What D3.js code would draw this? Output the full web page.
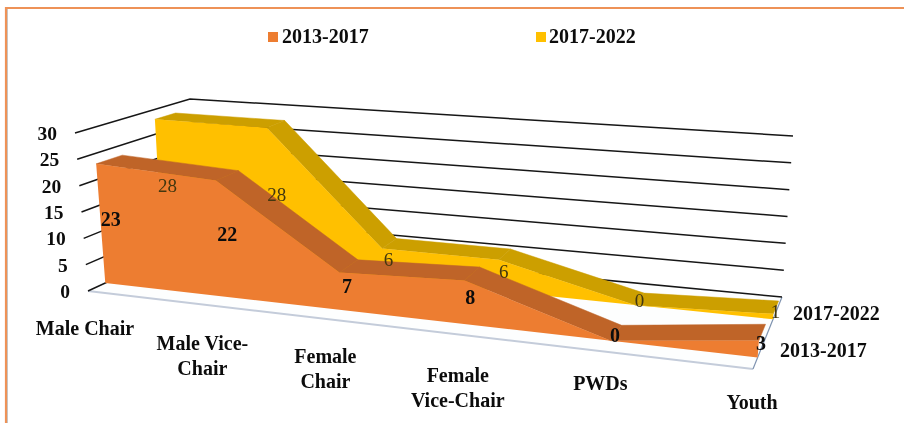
<!DOCTYPE html>
<html><head><meta charset="utf-8">
<script src="https://cdn.jsdelivr.net/npm/d3@7"></script>
<style>html,body{margin:0;padding:0;background:#fff}svg{display:block;filter:blur(.45px)}text{font-family:"Liberation Serif",serif;font-weight:700;fill:#0c0c0c}</style>
</head><body><svg id="c" width="904" height="423"></svg>
<script>
const categories = ["Male Chair","Male Vice-Chair","Female Chair","Female Vice-Chair","PWDs","Youth"];
const seriesNames = ["2013-2017","2017-2022"];
const values2013 = [23,22,7,8,0,3];
const values2017 = [28,28,6,6,0,1];
const valueTicks = [0,5,10,15,20,25,30];

// layout of the 3-D box: corners as [x,y] on the page
const box = {
  floorFL:[88,291], floorFR:[753,369], floorBL:[196,241], floorBR:[782,297],
  topFL:[75,133],   topFR:[766,199],   topBL:[190,99],    topBR:[793,136]
};
const catPos = d3.scaleLinear().domain(categories.map((_,i)=>i)).range([0,.178,.36,.55,.775,1]);
const valPos = d3.scaleLinear().domain([0,30]).range([0,1]);
const lerp = (a,b,t)=>a+(b-a)*t;
function project(u,d,val){
  const v = valPos(val);
  return [0,1].map(k=>{
    const f0=lerp(box.floorFL[k],box.floorFR[k],u), f1=lerp(box.floorBL[k],box.floorBR[k],u);
    const t0=lerp(box.topFL[k],box.topFR[k],u),   t1=lerp(box.topBL[k],box.topBR[k],u);
    return lerp(lerp(f0,f1,d),lerp(t0,t1,d),v);
  });
}
const svg = d3.select("#c");
const line = d3.line();
const closed = d3.line().curve(d3.curveLinearClosed);

// frame
svg.append("path").attr("d",line([[6,423],[6,8],[904,8]])).attr("fill","none").attr("stroke","#ee9257").attr("stroke-width",2.2);
svg.append("line").attr("x1",7.5).attr("x2",7.5).attr("y1",9).attr("y2",423).attr("stroke","#b9b9b9").attr("stroke-width",.8);

// legend
const legendX=[[268,282,"#ED7D31"],[536,549,"#FFC000"]];
seriesNames.forEach((n,i)=>{
  svg.append("rect").attr("x",legendX[i][0]).attr("y",32).attr("width",10).attr("height",10).attr("fill",legendX[i][2]);
  svg.append("text").attr("x",legendX[i][1]).attr("y",42.5).attr("font-size",20).text(n);
});

// floor
svg.append("path").attr("d",closed([project(0,0,0),project(1,0,0),project(1,1,0),project(0,1,0)])).attr("fill","#fdfefe");
svg.append("path").attr("d",line([project(0,0,0),project(1,0,0)])).attr("fill","none").attr("stroke","#c4ccda").attr("stroke-width",2);
svg.append("path").attr("d",line([project(1,0,0),project(1,1,0)])).attr("fill","none").attr("stroke","#7f93b0").attr("stroke-width",1.2);

// gridlines: side wall + back wall
valueTicks.forEach(t=>{
  svg.append("path").attr("d",line([project(0,0,t),project(0,1,t),project(1,1,t)]))
    .attr("fill","none").attr("stroke","#161616").attr("stroke-width",1.5);
  const p=project(0,0,t);
  svg.append("text").attr("x",p[0]-18).attr("y",p[1]+7).attr("text-anchor","end").attr("font-size",19.5).text(t);
});

// ribbons, back series first
const ribbons=[
  {vals:values2017,d0:.69,d1:.87,front:"#FFC000",top:"#CC9F00"},
  {vals:values2013,d0:.16,d1:.39,front:"#ED7D31",top:"#BF6428"}
];
ribbons.forEach(r=>{
  const g=svg.append("g");
  d3.pairs(r.vals.map((v,i)=>[catPos(i),v])).forEach(([a,b])=>{
    g.append("path").attr("d",closed([project(a[0],r.d0,a[1]),project(b[0],r.d0,b[1]),project(b[0],r.d1,b[1]),project(a[0],r.d1,a[1])]))
     .attr("fill",r.top).attr("stroke",r.top).attr("stroke-width",.5);
  });
  const frontTop=r.vals.map((v,i)=>project(catPos(i),r.d0,v));
  g.append("path").attr("d",closed([...frontTop,project(1,r.d0,0),project(0,r.d0,0)])).attr("fill",r.front);
});

// data labels
values2017.forEach((v,i)=>{
  const p=project(catPos(i),.77,v/2);
  svg.append("text").attr("x",p[0]).attr("y",p[1]+7).attr("text-anchor","middle").attr("font-size",19)
    .style("font-weight",400).style("fill","#43370f").text(v);
});
values2013.forEach((v,i)=>{
  const p=project(catPos(i),.25,v/2);
  svg.append("text").attr("x",p[0]).attr("y",p[1]+7).attr("text-anchor","middle").attr("font-size",20).text(v);
});

// category labels
const catLines=[["Male Chair"],["Male Vice-","Chair"],["Female","Chair"],["Female","Vice-Chair"],["PWDs"],["Youth"]];
const catNudge=[[-3,38],[-4,39],[-2,38],[4,42],[-3,33],[-1,34]];
catLines.forEach((ls,i)=>{
  const p=project(catPos(i),0,0);
  ls.forEach((t,j)=>svg.append("text").attr("x",p[0]+catNudge[i][0]).attr("y",p[1]+catNudge[i][1]+6+j*25)
    .attr("text-anchor","middle").attr("font-size",20).text(t));
});

// series (depth) labels
const depthLabelX=[780,793], depthLabelY=[357,320];
seriesNames.forEach((n,i)=>svg.append("text").attr("x",depthLabelX[i]).attr("y",depthLabelY[i]).attr("font-size",20).text(n));
</script></body></html>
